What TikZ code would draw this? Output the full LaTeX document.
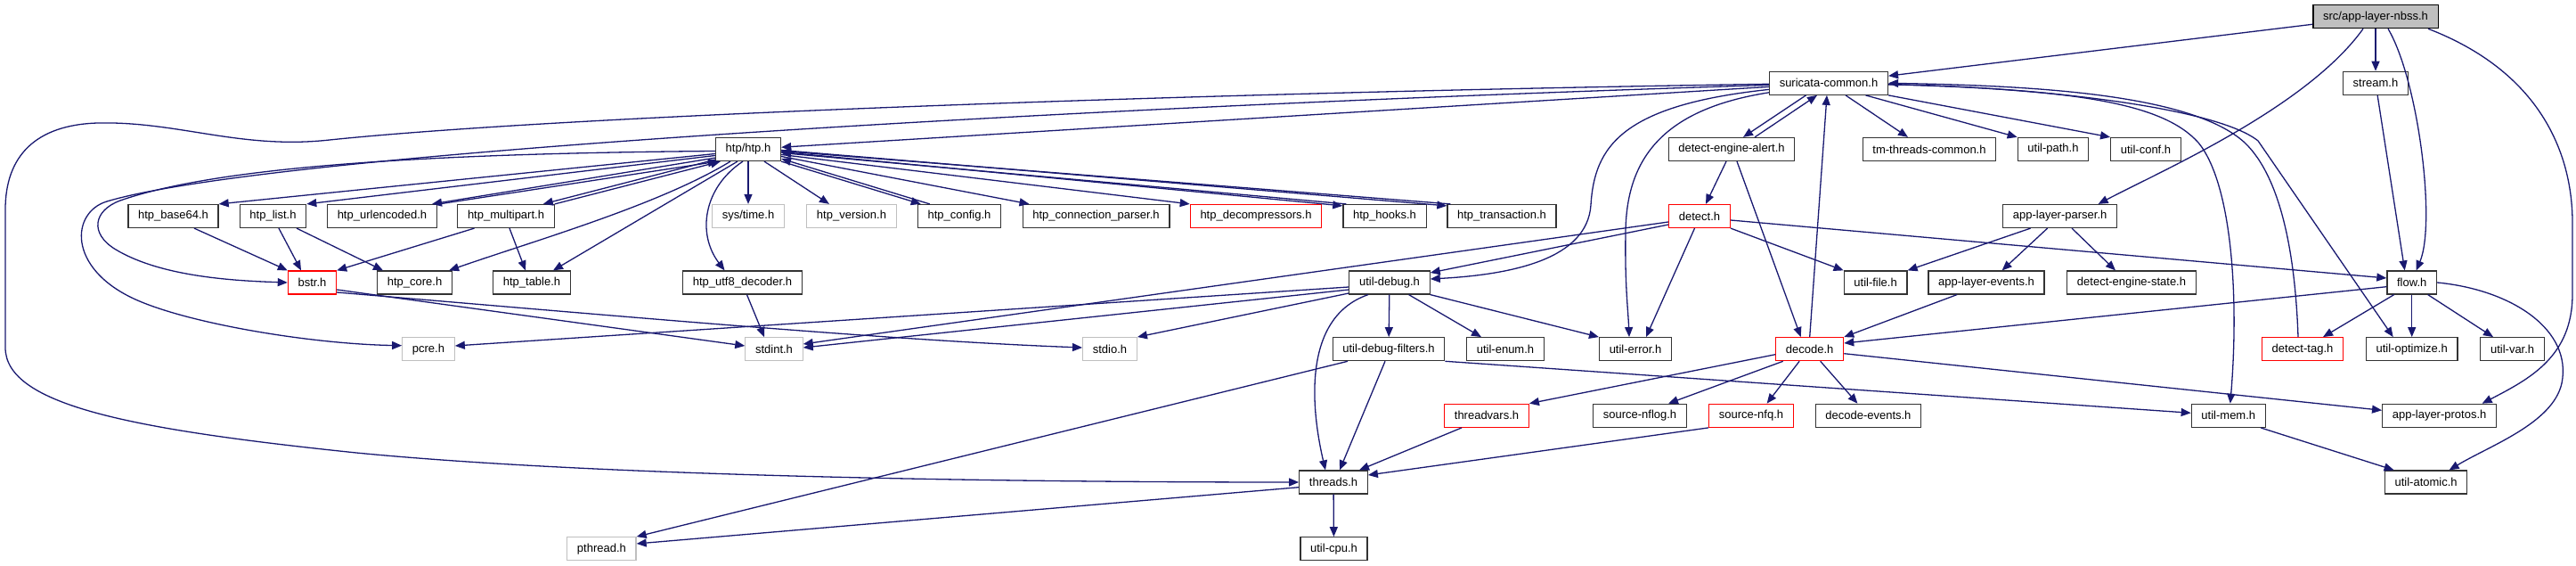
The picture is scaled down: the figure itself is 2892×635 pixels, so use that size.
\documentclass[tikz,border=0pt]{standalone}
\usepackage{fontspec}
\setmainfont{Liberation Sans}
\usetikzlibrary{arrows.meta}
\definecolor{edgeblue}{HTML}{191970}
\definecolor{boxgray}{HTML}{BFBFBF}
\begin{document}
\begin{tikzpicture}[x=0.5pt,y=-0.5pt,
hdr/.style={draw=black!80,line width=0.6pt,fill=white,inner xsep=5.6pt,inner ysep=0pt,minimum height=13pt,font=\fontsize{6.5}{7}\selectfont},
redhdr/.style={hdr,draw=red},
syshdr/.style={hdr,draw=boxgray},
roothdr/.style={hdr,draw=black,fill=boxgray},
dep/.style={draw=edgeblue,line width=0.65pt,-{Triangle[length=5.5pt,width=4.5pt]}}]
\useasboundingbox (0,0) rectangle (2892,635);
\node[roothdr] (nbss) at (2667,18.7) {src/app-layer-nbss.h};
\node[hdr] (sc) at (2053,93.3) {suricata-common.h};
\node[hdr] (stream) at (2667,93.3) {stream.h};
\node[hdr] (htp) at (840,167.5) {htp/htp.h};
\node[hdr] (dea) at (1944,167.5) {detect-engine-alert.h};
\node[hdr] (tmtc) at (2166,167.5) {tm-threads-common.h};
\node[hdr] (upath) at (2305,167.5) {util-path.h};
\node[hdr] (uconf) at (2409,167.5) {util-conf.h};
\node[hdr] (b64) at (194.5,242.5) {htp\_base64.h};
\node[hdr] (list) at (306.5,242.5) {htp\_list.h};
\node[hdr] (urlenc) at (429,242.5) {htp\_urlencoded.h};
\node[hdr] (multipart) at (568,242.5) {htp\_multipart.h};
\node[syshdr] (systime) at (840,242.5) {sys/time.h};
\node[syshdr] (version) at (956,242.5) {htp\_version.h};
\node[hdr] (config) at (1077,242.5) {htp\_config.h};
\node[hdr] (connp) at (1230.5,242.5) {htp\_connection\_parser.h};
\node[redhdr] (decomp) at (1410,242.5) {htp\_decompressors.h};
\node[hdr] (hooks) at (1554.5,242.5) {htp\_hooks.h};
\node[hdr] (trans) at (1686,242.5) {htp\_transaction.h};
\node[redhdr] (detect) at (1908,242.5) {detect.h};
\node[hdr] (alp) at (2312.6,242.5) {app-layer-parser.h};
\node[redhdr] (bstr) at (350.5,317) {bstr.h};
\node[hdr] (core) at (465.6,317) {htp\_core.h};
\node[hdr] (table) at (597,317) {htp\_table.h};
\node[hdr] (utf8) at (833.5,317) {htp\_utf8\_decoder.h};
\node[hdr] (udebug) at (1560,317) {util-debug.h};
\node[hdr] (ufile) at (2105.6,317) {util-file.h};
\node[hdr] (ale) at (2230,317) {app-layer-events.h};
\node[hdr] (des) at (2393,317) {detect-engine-state.h};
\node[hdr] (flow) at (2707.7,317) {flow.h};
\node[syshdr] (pcre) at (481,391.7) {pcre.h};
\node[syshdr] (stdint) at (869,391.7) {stdint.h};
\node[syshdr] (stdio) at (1246,391.7) {stdio.h};
\node[hdr] (udf) at (1559,391.7) {util-debug-filters.h};
\node[hdr] (uenum) at (1690,391.7) {util-enum.h};
\node[hdr] (uerror) at (1836,391.7) {util-error.h};
\node[redhdr] (decode) at (2031.7,391.7) {decode.h};
\node[redhdr] (dtag) at (2585,391.7) {detect-tag.h};
\node[hdr] (uopt) at (2707.7,391.7) {util-optimize.h};
\node[hdr] (uvar) at (2820.6,391.7) {util-var.h};
\node[redhdr] (tvars) at (1669,466.3) {threadvars.h};
\node[hdr] (nflog) at (1841,466.3) {source-nflog.h};
\node[redhdr] (nfq) at (1966,466.3) {source-nfq.h};
\node[hdr] (devents) at (2097.4,466.3) {decode-events.h};
\node[hdr] (umem) at (2501.8,466.3) {util-mem.h};
\node[hdr] (alprot) at (2738.6,466.3) {app-layer-protos.h};
\node[hdr] (threads) at (1497,541) {threads.h};
\node[hdr] (uatomic) at (2723.6,541) {util-atomic.h};
\node[syshdr] (pthread) at (675.4,615.7) {pthread.h};
\node[hdr] (ucpu) at (1497.5,615.7) {util-cpu.h};
\draw[dep] (nbss) -- (sc);
\draw[dep] (nbss) -- (stream);
\draw[dep] ([xshift=7pt]nbss.south) .. controls (2715,90) and (2735,250) .. ([xshift=2.5pt]flow.north);
\draw[dep] ([xshift=-7pt]nbss.south) .. controls (2590,120) and (2430,190) .. ([xshift=21.5pt]alp.north);
\draw[dep] ([xshift=29.5pt]nbss.south) .. controls (2850,80) and (2888,170) .. (2888,250) -- (2888,330) .. controls (2888,400) and (2840,425) .. ([xshift=24pt]alprot.north);
\draw[dep] (stream) -- ([xshift=-4pt]flow.north);
\draw[dep] (sc) -- (htp);
\draw[dep] (sc) .. controls (1200,120) and (300,172) .. (120,226) .. controls (80,238) and (75,300) .. (150,335) .. controls (210,363) and (350,386) .. ([yshift=2pt]pcre.west);
\draw[dep] (sc) .. controls (1400,103) and (650,128) .. (370,157) .. controls (270,168) and (200,136) .. (110,138) .. controls (40,140) and (6,175) .. (6,235) -- (6,390) .. controls (6,455) and (150,482) .. (400,508) .. controls (700,537) and (1200,541) .. (threads.west);
\draw[dep] ([xshift=-12.75pt]sc.south) -- ([xshift=6.5pt]dea.north);
\draw[dep] ([xshift=13pt]dea.north) -- ([xshift=-6.5pt]sc.south);
\draw[dep] ([xshift=9.5pt]sc.south) -- ([xshift=-12pt]tmtc.north);
\draw[dep] ([xshift=20.75pt]sc.south) -- (upath.north west);
\draw[dep] (sc.south east) -- (uconf.north west);
\draw[dep] (sc) .. controls (1820,118) and (1790,165) .. (1786,230) .. controls (1782,290) and (1700,308) .. ([yshift=2pt]udebug.east);
\draw[dep] (sc) .. controls (1870,122) and (1826,175) .. (1825,260) .. controls (1824,320) and (1828,350) .. ([xshift=-3.5pt]uerror.north);
\draw[dep] (sc) .. controls (2340,100) and (2430,118) .. (2468,160) .. controls (2505,205) and (2514,330) .. ([xshift=1pt]umem.north);
\draw[dep] (sc) .. controls (2300,98) and (2490,122) .. (2535,158) -- ([xshift=-10.5pt]uopt.north);
\draw[dep] ([xshift=-2.5pt]dtag.north) .. controls (2577,290) and (2562,200) .. (2520,160) .. controls (2460,105) and (2280,96) .. (sc.east);
\draw[dep] (decode.north) -- ([xshift=-1pt]sc.south);
\draw[dep] ([xshift=-3pt]dea.south) -- ([xshift=3.5pt]detect.north);
\draw[dep] ([xshift=3pt]dea.south) -- ([xshift=-5pt]decode.north);
\draw[dep] (detect.south east) -- (ufile.north west);
\draw[dep] ([yshift=-2.25pt]detect.east) -- ([yshift=2.5pt]flow.west);
\draw[dep] ([yshift=-4.75pt]detect.west) -- ([yshift=5.5pt]udebug.east);
\draw[dep] ([yshift=-3.25pt]detect.west) -- ([yshift=2.85pt]stdint.east);
\draw[dep] ([xshift=-2.75pt]detect.south) -- ([xshift=6pt]uerror.north);
\draw[dep] ([yshift=-1pt]htp.west) .. controls (500,172) and (250,185) .. (135,225) .. controls (105,236) and (100,262) .. (130,280) .. controls (180,310) and (260,315) .. (bstr.west);
\draw[dep] ([yshift=-2.5pt]htp.west) -- (b64.north east);
\draw[dep] ([yshift=-3.5pt]htp.west) -- (list.north east);
\draw[dep] ([yshift=2pt]htp.south west) -- ([xshift=-3pt]urlenc.north east);
\draw[dep] ([xshift=1pt]urlenc.north east) -- ([xshift=1.5pt]htp.south west);
\draw[dep] ([yshift=1pt]htp.south west) -- ([xshift=-6.5pt]multipart.north east);
\draw[dep] (multipart.north east) -- ([xshift=3pt]htp.south west);
\draw[dep] ([xshift=-10pt]htp.south) .. controls (740,230) and (600,270) .. ([xshift=-2pt]core.north east);
\draw[dep] ([xshift=-6pt]htp.south) -- ([xshift=12pt]table.north);
\draw[dep] ([xshift=-3pt]htp.south) .. controls (790,210) and (782,262) .. ([xshift=-10pt]utf8.north);
\draw[dep] (htp) -- (systime);
\draw[dep] ([xshift=9pt]htp.south) -- ([xshift=-12.5pt]version.north);
\draw[dep] (htp.south east) -- ([xshift=2pt]config.north west);
\draw[dep] ([xshift=7pt]config.north west) -- ([yshift=1.5pt]htp.south east);
\draw[dep] ([yshift=-4pt]htp.east) -- ([xshift=4pt]connp.north west);
\draw[dep] ([yshift=-3pt]htp.east) -- (decomp.north west);
\draw[dep] ([yshift=-1.5pt]htp.east) -- ([yshift=-1pt]hooks.north west);
\draw[dep] ([xshift=2pt]hooks.north west) -- ([yshift=-2pt]htp.east);
\draw[dep] ([yshift=-0.5pt]htp.east) -- ([yshift=-1pt]trans.north west);
\draw[dep] ([xshift=2pt]trans.north west) -- ([yshift=-1pt]htp.east);
\draw[dep] ([xshift=11.75pt]b64.south) -- (bstr.north west);
\draw[dep] ([xshift=3.25pt]list.south) -- ([xshift=-6.25pt]bstr.north);
\draw[dep] ([xshift=13.25pt]list.south) -- ([xshift=-17.8pt]core.north);
\draw[dep] ([xshift=-17.75pt]multipart.south) -- (bstr.north east);
\draw[dep] ([xshift=2pt]multipart.south) -- ([xshift=-3.5pt]table.north);
\draw[dep] ([yshift=-4pt]bstr.east) -- ([yshift=1.85pt]stdint.west);
\draw[dep] ([yshift=-5.5pt]bstr.east) .. controls (700,355) and (1000,382) .. ([yshift=0.85pt]stdio.west);
\draw[dep] ([xshift=2.5pt]utf8.south) -- ([xshift=-5.5pt]stdint.north);
\draw[dep] ([yshift=-2.5pt]udebug.west) -- ([yshift=1.85pt]pcre.east);
\draw[dep] ([yshift=-4pt]udebug.west) -- ([yshift=0.85pt]stdint.east);
\draw[dep] ([yshift=-6pt]udebug.west) -- (stdio.north east);
\draw[dep] (udebug) -- (udf);
\draw[dep] ([xshift=10.8pt]udebug.south) -- ([xshift=-13.5pt]uenum.north);
\draw[dep] (udebug.south east) -- (uerror.north west);
\draw[dep] ([xshift=-12pt]udebug.south) .. controls (1465,355) and (1470,450) .. ([xshift=-4.5pt]threads.north);
\draw[dep] ([xshift=-2pt]udf.south) -- ([xshift=3.5pt]threads.north);
\draw[dep] ([xshift=-23pt]udf.south) -- (pthread.north east);
\draw[dep] (udf.south east) -- ([yshift=1.5pt]umem.west);
\draw[dep] ([xshift=-16.5pt]alp.south) -- (ufile.north east);
\draw[dep] ([xshift=-7pt]alp.south) -- ([xshift=8.8pt]ale.north);
\draw[dep] ([xshift=6.7pt]alp.south) -- ([xshift=-9pt]des.north);
\draw[dep] ([xshift=-16.5pt]ale.south) -- (decode.north east);
\draw[dep] ([yshift=-2.35pt]flow.west) -- ([yshift=3.35pt]decode.east);
\draw[dep] ([xshift=-10pt]flow.south) -- ([xshift=11.5pt]dtag.north);
\draw[dep] (flow) -- (uopt);
\draw[dep] ([xshift=9pt]flow.south) -- ([xshift=-10.8pt]uvar.north);
\draw[dep] (flow.east) .. controls (2820,325) and (2888,370) .. (2876,430) .. controls (2866,475) and (2795,500) .. ([xshift=13pt]uatomic.north);
\draw[dep] ([yshift=-3pt]decode.west) -- (tvars.north east);
\draw[dep] ([xshift=-15pt]decode.south) -- ([xshift=16pt]nflog.north);
\draw[dep] ([xshift=-5.8pt]decode.south) -- ([xshift=8.8pt]nfq.north);
\draw[dep] ([xshift=6pt]decode.south) -- ([xshift=-6pt]devents.north);
\draw[dep] ([yshift=-2.5pt]decode.east) -- ([yshift=3pt]alprot.west);
\draw[dep] ([xshift=-14pt]tvars.south) -- ([xshift=14.5pt]threads.north);
\draw[dep] (nfq.south west) -- ([yshift=4pt]threads.east);
\draw[dep] (threads) -- (ucpu);
\draw[dep] ([yshift=-2.85pt]threads.west) -- ([yshift=2.85pt]pthread.east);
\draw[dep] ([xshift=-3pt]umem.south east) -- ([xshift=-18pt]uatomic.north);
\end{tikzpicture}
\end{document}
